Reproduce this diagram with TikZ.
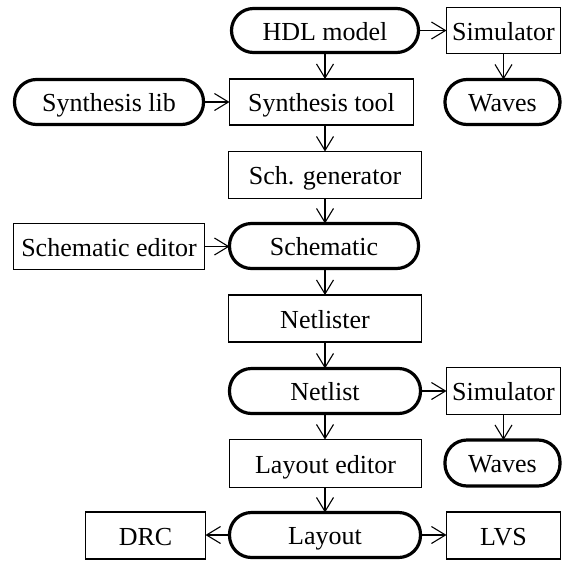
\documentclass[tikz,border=0pt]{standalone}
\usepackage{fontspec}
\setmainfont{Liberation Serif}
\usetikzlibrary{arrows.meta}
\begin{document}
\begin{tikzpicture}[x=1pt,y=-1pt,
  base/.style={inner sep=0pt, outer sep=0pt, font=\fontsize{26}{30}\selectfont, anchor=center, text height=19pt, text depth=0pt},
  boxnode/.style={base, draw, line width=1.1pt, rectangle},
  pill/.style={base, draw, line width=3.2pt, rectangle, rounded corners=22pt},
  conn/.style={line width=1.1pt, -{Straight Barb[length=14pt,width=17pt,line width=1.1pt]}}
]
\useasboundingbox (0,0) rectangle (562,560);
% main column
\node[pill, minimum width=187pt, minimum height=44pt] (hdl) at (325,30.5) {HDL model};
\node[boxnode, minimum width=184pt, minimum height=46pt] (syn) at (321.5,102) {Synthesis tool};
\node[boxnode, minimum width=193pt, minimum height=47pt] (schgen) at (325,175) {Sch. generator};
\node[pill, minimum width=189pt, minimum height=45pt] (sch) at (324,246) {Schematic};
\node[boxnode, minimum width=193pt, minimum height=47pt] (netr) at (325,318.5) {Netlister};
\node[pill, minimum width=191pt, minimum height=45pt] (net) at (325,391) {Netlist};
\node[boxnode, minimum width=192pt, minimum height=48pt] (led) at (325.5,463.5) {Layout editor};
\node[pill, minimum width=191pt, minimum height=45pt] (lay) at (325,535) {Layout};
% right column
\node[boxnode, minimum width=114pt, minimum height=46pt] (sim1) at (503.5,30.5) {Simulator};
\node[pill, minimum width=115pt, minimum height=45pt] (wav1) at (502.5,102) {Waves};
\node[boxnode, minimum width=114pt, minimum height=47pt] (sim2) at (503.5,391) {Simulator};
\node[pill, minimum width=115pt, minimum height=46pt] (wav2) at (502.5,463) {Waves};
\node[boxnode, minimum width=114pt, minimum height=47pt] (lvs) at (503.5,535.5) {LVS};
% left column
\node[pill, minimum width=189pt, minimum height=45pt] (slib) at (109,102) {Synthesis lib};
\node[boxnode, minimum width=191pt, minimum height=46pt] (sed) at (109,246.5) {Schematic editor};
\node[boxnode, minimum width=120pt, minimum height=47pt] (drc) at (145.5,535.5) {DRC};
% connectors
\draw[conn] (hdl.south) -- (hdl.south |- syn.north);
\draw[conn] (hdl.east) -- (sim1.west);
\draw[conn] (sim1.south) -- (sim1.south |- wav1.north);
\draw[conn] (slib.east) -- (slib.east -| syn.west);
\draw[conn] (syn.south -| hdl.south) -- (hdl.south |- schgen.north);
\draw[conn] (schgen.south) -- (schgen.south |- sch.north);
\draw[conn] (sed.east) -- (sed.east -| sch.west);
\draw[conn] (sch.south -| schgen.south) -- (schgen.south |- netr.north);
\draw[conn] (netr.south) -- (net.north);
\draw[conn] (net.east) -- (net.east -| sim2.west);
\draw[conn] (sim2.south) -- (sim2.south |- wav2.north);
\draw[conn] (net.south) -- (net.south |- led.north);
\draw[conn] (led.south -| lay.north) -- (lay.north);
\draw[conn] (lay.west) -- (lay.west -| drc.east);
\draw[conn] (lay.east) -- (lay.east -| lvs.west);
\end{tikzpicture}
\end{document}
